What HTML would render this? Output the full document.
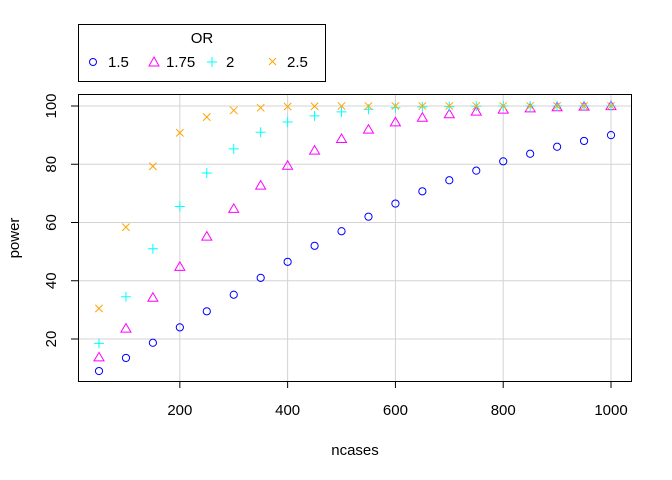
<!DOCTYPE html>
<html><head><meta charset="utf-8"><style>
body{margin:0;background:#fff}
svg{display:block;font-family:"Liberation Sans",Arial,sans-serif}
</style></head><body>
<svg id="s" width="672" height="480" viewBox="0 0 672 480" xmlns="http://www.w3.org/2000/svg">
<rect width="672" height="480" fill="#fff"/>
<g id="grid" stroke="#d3d3d3" stroke-width="1"></g>
<g id="pts" fill="none" stroke-width="1"></g>
<rect x="78.5" y="94.5" width="553" height="287" fill="none" stroke="#000" stroke-width="1"/>
<g id="ax" stroke="#000" stroke-width="1"></g>
<g id="lab" font-size="15" fill="#000"></g>
<text x="355" y="455" font-size="15" text-anchor="middle">ncases</text>
<text transform="translate(19,238) rotate(-90)" font-size="15" text-anchor="middle">power</text>
<rect x="78.5" y="24.5" width="247" height="57" fill="#fff" stroke="#000"/>
<text x="202" y="43" font-size="15" text-anchor="middle">OR</text>
<circle cx="93" cy="62" r="3.5" fill="none" stroke="#0000ff"/>
<text x="108" y="67" font-size="15">1.5</text>
<path d="M154,57 L159,66 L149,66 Z" fill="none" stroke="#ff00ff"/>
<text x="166" y="67" font-size="15">1.75</text>
<path d="M207,62h10M212,57v10" stroke="#00ffff" fill="none"/>
<text x="226" y="67" font-size="15">2</text>
<path d="M269,58l7,7M276,58l-7,7" stroke="#ffa500" fill="none"/>
<text x="287" y="67" font-size="15">2.5</text>
</svg>
<script>
const X=n=>99+(n-50)*0.53895, Y=v=>339-(v-20)*2.9125;
const ns='http://www.w3.org/2000/svg';
function el(p,t,a){const e=document.createElementNS(ns,t);for(const k in a)e.setAttribute(k,a[k]);document.getElementById(p).appendChild(e);return e;}
for(let n=200;n<=1000;n+=200){let x=X(n);el('grid','line',{x1:x,x2:x,y1:95,y2:381});el('ax','line',{x1:x,x2:x,y1:381,y2:388});
let t=el('lab','text',{x:x,y:415,'text-anchor':'middle'});t.textContent=n;}
for(let v=20;v<=100;v+=20){let y=Y(v);el('grid','line',{x1:79,x2:631,y1:y,y2:y});el('ax','line',{x1:71,x2:79,y1:y,y2:y});
let t=el('lab','text',{x:0,y:0,'text-anchor':'middle',transform:`translate(56,${y}) rotate(-90)`});t.textContent=v;}
const d={
a:[9,13.5,18.7,24,29.5,35.2,41,46.5,52,57,62,66.5,70.7,74.5,77.8,81,83.6,86,88,90],
b:[13.5,23.4,34,44.6,55,64.5,72.5,79.3,84.5,88.5,91.7,94.2,95.8,97,97.9,98.6,99,99.4,99.6,99.8],
c:[18.5,34.5,51,65.5,77,85.3,91,94.5,96.6,98,98.9,99.4,99.7,99.8,99.9,100,100,100,100,100],
e:[30.5,58.4,79.3,90.8,96.2,98.5,99.4,99.8,99.9,100,100,100,100,100,100,100,100,100,100,100]};
for(let i=0;i<20;i++){const x=X(50+i*50);
let y=Y(d.a[i]);el('pts','circle',{cx:x,cy:y,r:3.6,stroke:'#0000ff'});
y=Y(d.b[i]);el('pts','path',{d:`M${x},${y-5.5}L${x+5},${y+3}L${x-5},${y+3}Z`,stroke:'#ff00ff'});
y=Y(d.c[i]);el('pts','path',{d:`M${x-5},${y}h10M${x},${y-5}v10`,stroke:'#00ffff'});
y=Y(d.e[i]);el('pts','path',{d:`M${x-3.7},${y-3.7}l7.4,7.4M${x+3.7},${y-3.7}l-7.4,7.4`,stroke:'#ffa500'});}
</script>
</body></html>
